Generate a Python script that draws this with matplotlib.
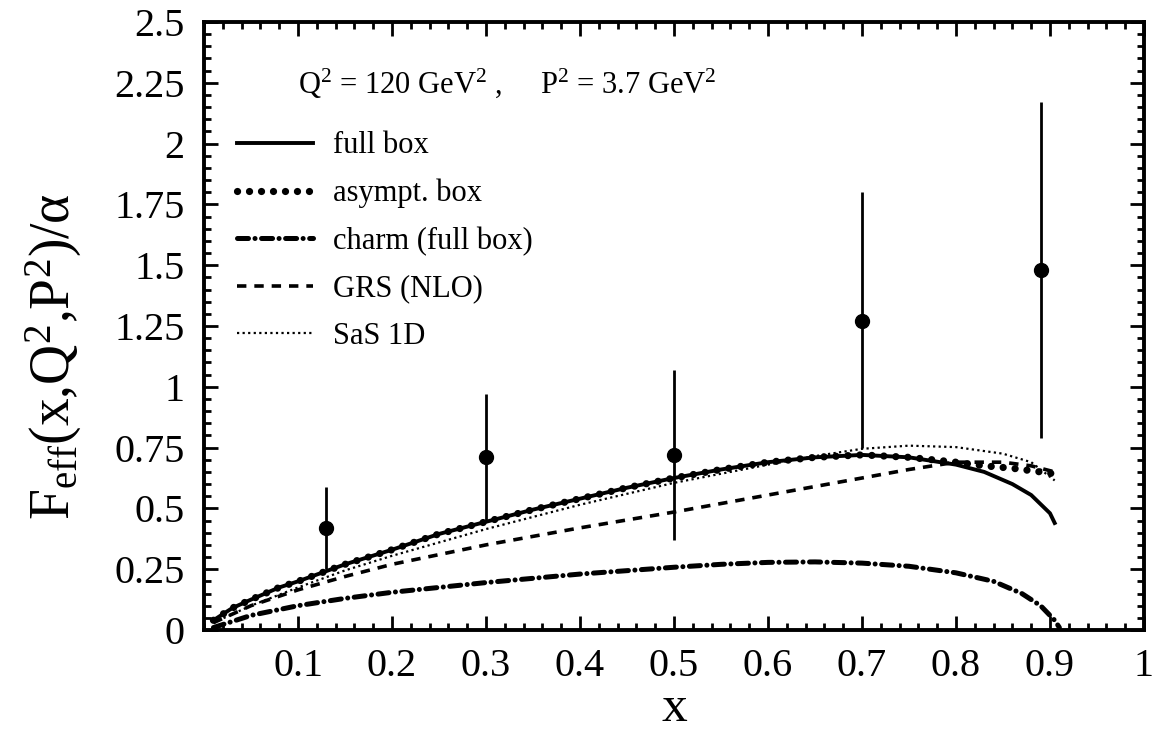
import numpy as np
import matplotlib
matplotlib.use("Agg")
import matplotlib.pyplot as plt
from matplotlib.ticker import MultipleLocator, FixedLocator

plt.rcParams['font.family'] = ['Liberation Serif', 'DejaVu Serif']
plt.rcParams['mathtext.fontset'] = 'custom'
plt.rcParams['mathtext.rm'] = 'Liberation Serif'
plt.rcParams['mathtext.it'] = 'Liberation Serif:italic'

# data points with error bars
x_data = [0.13, 0.30, 0.50, 0.70, 0.89]
y_data = [0.42, 0.71, 0.72, 1.27, 1.48]
y_low = [0.25, 0.45, 0.37, 0.75, 0.79]
y_high = [0.59, 0.97, 1.07, 1.80, 2.17]

# full box / asymptotic box
x_box = [0.01, 0.03, 0.05, 0.08, 0.10, 0.15, 0.20, 0.25, 0.30, 0.35, 0.40, 0.45,
         0.50, 0.55, 0.60, 0.65, 0.70, 0.75, 0.80, 0.83, 0.86, 0.88, 0.90, 0.905]
full_box = [0.04, 0.09, 0.125, 0.175, 0.20, 0.27, 0.33, 0.395, 0.445, 0.495, 0.54, 0.585,
            0.625, 0.66, 0.69, 0.71, 0.72, 0.71, 0.68, 0.65, 0.60, 0.555, 0.48, 0.44]
asym_box = [0.04, 0.09, 0.125, 0.175, 0.20, 0.27, 0.33, 0.395, 0.445, 0.495, 0.54, 0.585,
            0.625, 0.66, 0.69, 0.71, 0.72, 0.71, 0.69, 0.675, 0.665, 0.655, 0.645, 0.64]

# charm (full box)
x_charm = [0.01, 0.05, 0.10, 0.15, 0.20, 0.25, 0.30, 0.40, 0.50, 0.55, 0.60, 0.65,
           0.70, 0.75, 0.80, 0.84, 0.87, 0.89, 0.905, 0.91]
charm = [0.01, 0.06, 0.10, 0.13, 0.155, 0.175, 0.195, 0.23, 0.258, 0.27, 0.278, 0.28,
         0.275, 0.262, 0.235, 0.20, 0.15, 0.10, 0.04, 0.01]

# GRS (NLO)
x_grs = [0.01, 0.05, 0.10, 0.15, 0.20, 0.30, 0.40, 0.50, 0.60, 0.70, 0.75, 0.80, 0.85, 0.88, 0.905]
grs = [0.03, 0.10, 0.165, 0.22, 0.27, 0.35, 0.42, 0.485, 0.555, 0.625, 0.66, 0.69, 0.69, 0.675, 0.65]

# SaS 1D
x_sas = [0.01, 0.05, 0.10, 0.15, 0.20, 0.30, 0.40, 0.50, 0.60, 0.65, 0.70, 0.75, 0.80, 0.85, 0.88, 0.905]
sas = [0.03, 0.10, 0.175, 0.245, 0.305, 0.415, 0.515, 0.605, 0.68, 0.715, 0.745, 0.758,
       0.752, 0.725, 0.69, 0.615]

xtick_labels = ['0.1', '0.2', '0.3', '0.4', '0.5', '0.6', '0.7', '0.8', '0.9', '1']
ytick_labels = ['0', '0.25', '0.5', '0.75', '1', '1.25', '1.5', '1.75', '2', '2.25', '2.5']

fig = plt.figure(figsize=(11.56, 7.34), dpi=100)
ax = fig.add_axes([0.1765, 0.1417, 0.8131, 0.8283])

ax.plot(x_box, full_box, color='black', lw=2.8, label='full box')
ax.plot(x_box, asym_box, color='black', lw=5.2, linestyle=(0, (0.01, 1.65)),
        dash_capstyle='round', label='asympt. box')
ax.plot(x_charm, charm, color='black', lw=3.6, linestyle=(0, (2.2, 1.3, 0.01, 1.3)),
        dash_capstyle='round', label='charm (full box)')
ax.plot(x_grs, grs, color='black', lw=2.6, linestyle=(0, (2.6, 2.2)), label='GRS (NLO)')
ax.plot(x_sas, sas, color='black', lw=1.6, linestyle=(0, (1.0, 1.5)), label='SaS 1D')

yerr = [np.array(y_data) - np.array(y_low), np.array(y_high) - np.array(y_data)]
ax.errorbar(x_data, y_data, yerr=yerr, fmt='o', color='black', ms=10, elinewidth=2, capsize=0)

ax.set_xlim(0, 1)
ax.set_ylim(0, 2.5)
ax.xaxis.set_major_locator(FixedLocator(np.arange(1, 11) / 10))
ax.xaxis.set_minor_locator(MultipleLocator(0.02))
ax.set_xticklabels(xtick_labels)
ax.set_yticks(np.arange(0, 2.51, 0.25))
ax.yaxis.set_minor_locator(MultipleLocator(0.05))
ax.set_yticklabels(ytick_labels)
ax.tick_params(which='both', direction='in', top=True, right=True, labelsize=29, width=2)
ax.tick_params(which='major', length=10)
ax.tick_params(which='minor', length=5)
ax.tick_params(axis='x', pad=13)
ax.tick_params(axis='y', pad=14)
for s in ax.spines.values():
    s.set_linewidth(2.8)

ax.set_xlabel('x', fontsize=37, labelpad=0)
ax.set_ylabel(r'F$_{\rm eff}$(x,Q$^2$,P$^2$)/α', fontsize=40, labelpad=22)
ax.yaxis.label.set_y(0.45)

ax.text(0.1, 0.9, r'Q$^2$ = 120 GeV$^2$ ,     P$^2$ = 3.7 GeV$^2$', transform=ax.transAxes,
        fontsize=22, va='center', ha='left')

ax.legend(loc='upper left', bbox_to_anchor=(0.035, 0.82), frameon=False, fontsize=22,
          handlelength=2.5, handletextpad=0.65, labelspacing=0.6, borderpad=0, borderaxespad=0)

fig.savefig('out.png', dpi=100)
